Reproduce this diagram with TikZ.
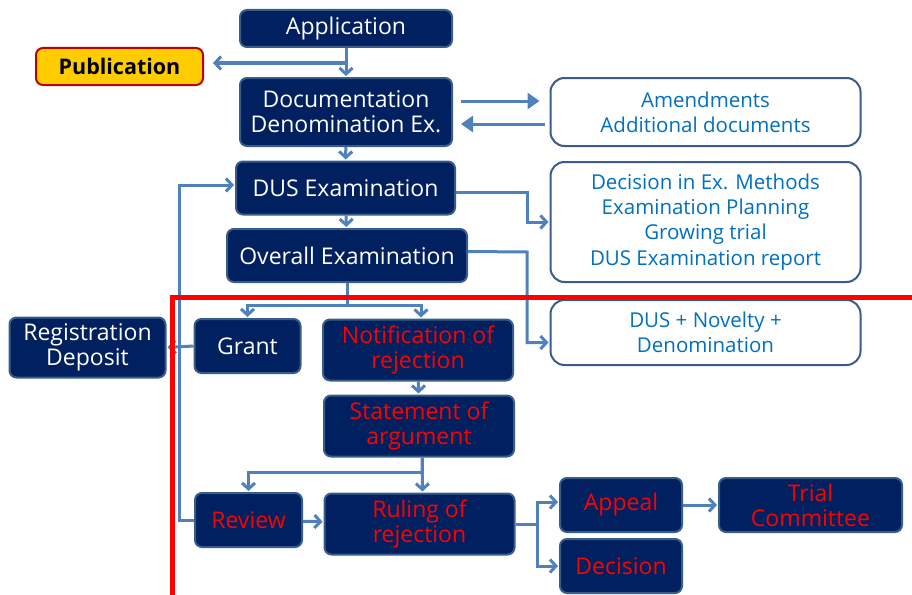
\documentclass[tikz,border=0pt]{standalone}
\usepackage{fontspec}
\setmainfont{Open Sans}
\usetikzlibrary{arrows.meta}
\definecolor{navy}{HTML}{002060}
\definecolor{edgeblue}{HTML}{385D8A}
\definecolor{steel}{HTML}{4F81BD}
\definecolor{txtblue}{HTML}{0070C0}
\definecolor{gold}{HTML}{FFCC00}
\definecolor{darkred}{HTML}{C00000}

\begin{document}
\begin{tikzpicture}[x=1pt, y=-1pt,
    box/.style={draw=edgeblue, line width=2pt, fill=navy, rounded corners=7pt, text=white,
      align=center, inner sep=0pt, font=\fontsize{23}{25}\selectfont},
    redbox/.style={box, text=red},
    bluebox/.style={draw=edgeblue, line width=2pt, fill=white, rounded corners=14pt, text=txtblue,
      align=center, inner sep=0pt, minimum width=310pt, font=\fontsize{20.5}{25.3}\selectfont},
    conn/.style={draw=steel, line width=3pt, shorten >=1pt, -{Straight Barb[length=6pt,width=13pt]}},
    fatconn/.style={draw=steel, line width=3pt, -{Triangle[length=12pt,width=16pt]}}]
    \useasboundingbox (0,0) rectangle (912,594);

    % main column
    \node[box, minimum width=212pt, minimum height=37pt] (app) at (346,28.5) {Application};
    \node[draw=darkred, line width=2pt, fill=gold, rounded corners=7pt, inner sep=0pt,
      minimum width=167pt, minimum height=37pt, font=\fontsize{21.5}{25}\selectfont\bfseries] (pub) at (119.5,66.5) {Publication};
    \node[box, minimum width=212pt, minimum height=68pt] (doc) at (346,112) {Documentation\\Denomination Ex.};
    \node[box, minimum width=219pt, minimum height=53pt] (dus) at (345.5,188) {DUS Examination};
    \node[box, minimum width=240pt, minimum height=53pt] (overall) at (347,255.5) {Overall Examination};

    % right column
    \node[bluebox, minimum height=68pt] (amend) at (705.5,112) {Amendments\\Additional documents};
    \node[bluebox, minimum height=120pt] (methods) at (705.5,222) {Decision in Ex. Methods\\Examination Planning\\Growing trial\\DUS Examination report};
    \node[bluebox, minimum height=65pt] (novel) at (705.5,332.5) {DUS + Novelty +\\Denomination};

    % lower part
    \node[box, minimum width=156pt, minimum height=60pt] (regdep) at (87.5,347.5) {Registration\\Deposit};
    \node[box, minimum width=106pt, minimum height=54pt] (grant) at (247.5,346) {Grant};
    \node[redbox, minimum width=190pt, minimum height=61pt] (notif) at (418,350) {Notification of\\rejection};
    \node[redbox, minimum width=190pt, minimum height=61pt] (stmt) at (419,426) {Statement of\\argument};
    \node[redbox, minimum width=107pt, minimum height=54pt] (review) at (248.5,520) {Review};
    \node[redbox, minimum width=190pt, minimum height=61pt] (ruling) at (419.5,524) {Ruling of\\rejection};
    \node[redbox, minimum width=122pt, minimum height=54pt] (appeal) at (621,505) {Appeal};
    \node[redbox, minimum width=122pt, minimum height=54pt] (decision) at (621,566) {Decision};
    \node[redbox, minimum width=183pt, minimum height=54pt] (trial) at (810.5,505) {Trial\\Committee};

    % connectors
    \coordinate (pubsplit) at (346,63);
    \draw[conn] (app) -- (doc);
    \draw[conn, shorten >=9pt] (pubsplit) -- (pubsplit -| pub.east);
    \draw[fatconn, shorten <=8pt, shorten >=10pt] ([yshift=11pt]doc.east) -- ([yshift=11pt]amend.west);
    \draw[fatconn, shorten <=5pt, shorten >=8pt] ([yshift=-12pt]amend.west) -- ([yshift=-12pt]doc.east);
    \draw[conn] (doc) -- (dus);
    \draw[conn] (dus) -- (overall);
    \draw[conn] ([yshift=-4pt]dus.east) -- (527,192) |- (methods.west);
    \draw[conn] ([yshift=4pt]overall.east) -- (527,252) |- ([yshift=-10pt]novel.west);
    \draw[conn] (overall.south) -- ++(0,22) -| (grant.north);
    \draw[conn] (overall.south) -- ++(0,22) -| ([xshift=3pt]notif.north);
    \draw[conn] (grant.west) -- (regdep.east);
    \draw[conn] (notif) -- (stmt);
    \draw[conn] ([xshift=3pt]stmt.south) -- ++(0,15) -| (review.north);
    \draw[conn] ([xshift=3pt]stmt.south) -- ([xshift=3pt]ruling.north);
    \draw[conn] (review.west) -- ++(-15,0) |- ([yshift=3pt]dus.west);
    \draw[conn] (review) -- (ruling);
    \draw[conn] (ruling.east) -- ++(22,0) |- ([yshift=3pt]appeal.west);
    \draw[conn] (ruling.east) -- ++(22,0) |- (decision.west);
    \draw[conn] (appeal) -- (trial);

    % border of the rejection area
    \draw[red, line width=5pt] (172.5,600) -- (172.5,297) -- (920,297);
\end{tikzpicture}
\end{document}
